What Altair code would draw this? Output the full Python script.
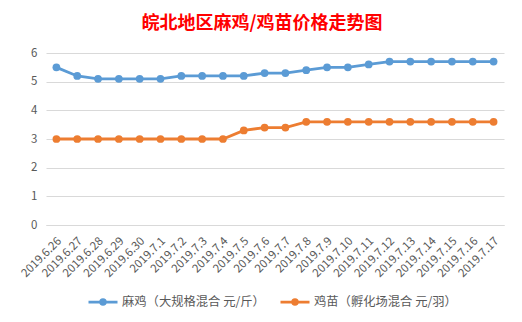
import altair as alt
import pandas as pd

dates = ["2019.6.26", "2019.6.27", "2019.6.28", "2019.6.29", "2019.6.30",
         "2019.7.1", "2019.7.2", "2019.7.3", "2019.7.4", "2019.7.5", "2019.7.6",
         "2019.7.7", "2019.7.8", "2019.7.9", "2019.7.10", "2019.7.11", "2019.7.12",
         "2019.7.13", "2019.7.14", "2019.7.15", "2019.7.16", "2019.7.17"]
maji = [5.5, 5.2, 5.1, 5.1, 5.1, 5.1, 5.2, 5.2, 5.2, 5.2, 5.3,
        5.3, 5.4, 5.5, 5.5, 5.6, 5.7, 5.7, 5.7, 5.7, 5.7, 5.7]
jimiao = [3.0, 3.0, 3.0, 3.0, 3.0, 3.0, 3.0, 3.0, 3.0, 3.3, 3.4,
          3.4, 3.6, 3.6, 3.6, 3.6, 3.6, 3.6, 3.6, 3.6, 3.6, 3.6]
series_names = ["麻鸡（大规格混合 元/斤）", "鸡苗（孵化场混合 元/羽）"]
colors = ["#5B9BD5", "#ED7D31"]
title_text = "皖北地区麻鸡/鸡苗价格走势图"

rows = []
for name, vals in zip(series_names, [maji, jimiao]):
    for d, v in zip(dates, vals):
        rows.append({"date": d, "value": v, "series": name})
df = pd.DataFrame(rows)

FONT = "Noto Sans CJK SC"
# stroked legend glyph: horizontal line plus concentric small circles (appear as a dot)
legend_path = ("M-1,0 L1,0 "
               "M-0.16,0 A0.16,0.16 0 1,0 0.16,0 A0.16,0.16 0 1,0 -0.16,0 "
               "M-0.06,0 A0.06,0.06 0 1,0 0.06,0 A0.06,0.06 0 1,0 -0.06,0")

color = alt.Color(
    "series:N",
    sort=series_names,
    scale=alt.Scale(domain=series_names, range=colors),
    legend=alt.Legend(
        title=None, orient="none", direction="horizontal",
        legendX=41, legendY=233, padding=0,
        symbolType=legend_path, symbolSize=841, symbolStrokeWidth=2.8,
        labelFont=FONT, labelFontSize=12.3, labelColor="#595959",
        labelOffset=3, columnPadding=9, labelLimit=300,
    ),
)

x = alt.X("date:N", sort=dates, scale=alt.Scale(padding=0.5),
          axis=alt.Axis(title=None, labelAngle=-45, labelAlign="right", labelBaseline="middle",
                        labelFont=FONT, labelFontSize=11.5, labelColor="#595959",
                        labelPadding=14, labelOffset=3, ticks=False,
                        domainColor="#D9D9D9", domainWidth=1,
                        grid=False, labelOverlap=False))
y = alt.Y("value:Q", scale=alt.Scale(domain=[0, 6], nice=False),
          axis=alt.Axis(title=None, values=[0, 1, 2, 3, 4, 5, 6], domain=False, ticks=False,
                        labelFont=FONT, labelFontSize=11.5, labelColor="#595959",
                        labelPadding=9, gridColor="#D9D9D9", gridWidth=1))

chart = (
    alt.Chart(df)
    .mark_line(strokeWidth=2.8, point=alt.OverlayMarkDef(filled=True, size=60, opacity=1))
    .encode(x=x, y=y, color=color)
    .properties(
        width=458, height=172,
        padding={"left": 46, "top": 53, "right": 18, "bottom": 97},
        autosize=alt.AutoSizeParams(type="none"),
        background="white",
        title=alt.TitleParams(title_text, font=FONT, fontSize=18, fontWeight="bold",
                              color="#FF0000", anchor="middle", dx=-13, offset=14),
    )
    .configure_view(stroke=None)
)

chart.save("out.html", embed_options={"renderer": "svg", "actions": False})
